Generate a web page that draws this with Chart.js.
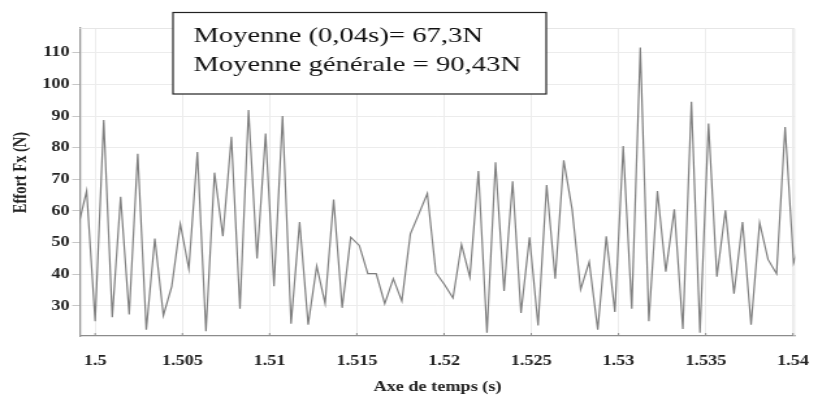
<!DOCTYPE html>
<html lang="fr">
<head>
<meta charset="utf-8">
<title>Effort Fx</title>
<script src="https://cdn.jsdelivr.net/npm/chart.js@4.4.1/dist/chart.umd.min.js"></script>
<style>
	html, body { margin: 0; padding: 0; background: #fff; overflow: hidden; }
	/* the figure is drawn narrow and widened, like the original export */
	#wrap { width: 639px; height: 396px; transform: scaleX(1.3005); transform-origin: 0 0; }
</style>
</head>
<body>
<div id="wrap"><canvas id="chart"></canvas></div>
<script>
// temps d'echantillonnage (s)
const temps = [
	1.49902, 1.49951, 1.50000, 1.50049, 1.50098, 1.50146, 1.50195, 1.50244, 1.50293, 1.50342,
	1.50391, 1.50439, 1.50488, 1.50537, 1.50586, 1.50635, 1.50684, 1.50732, 1.50781, 1.50830,
	1.50879, 1.50928, 1.50977, 1.51025, 1.51074, 1.51123, 1.51172, 1.51221, 1.51270, 1.51318,
	1.51367, 1.51416, 1.51465, 1.51514, 1.51563, 1.51611, 1.51660, 1.51709, 1.51758, 1.51807,
	1.51855, 1.51904, 1.51953, 1.52002, 1.52051, 1.52100, 1.52148, 1.52197, 1.52246, 1.52295,
	1.52344, 1.52393, 1.52441, 1.52490, 1.52539, 1.52588, 1.52637, 1.52686, 1.52734, 1.52783,
	1.52832, 1.52881, 1.52930, 1.52979, 1.53027, 1.53076, 1.53125, 1.53174, 1.53223, 1.53271,
	1.53320, 1.53369, 1.53418, 1.53467, 1.53516, 1.53564, 1.53613, 1.53662, 1.53711, 1.53760,
	1.53809, 1.53857, 1.53906, 1.53955, 1.54004, 1.54053
];

// effort Fx (N)
const effort = [
	55, 66.3, 25.2, 88.7, 26.4, 64.5, 27.3, 78.1, 22.5, 51.3,
	27.0, 36.2, 55.9, 41.7, 78.6, 22.0, 72.1, 52.0, 83.4, 29.1,
	91.9, 45.0, 84.5, 36.2, 90.0, 24.4, 56.5, 24.1, 42.6, 30.8,
	63.6, 29.4, 51.7, 49.1, 40.2, 40.2, 30.7, 38.6, 31.5, 52.8,
	59.0, 65.5, 40.5, 36.8, 32.5, 49.4, 39.1, 72.6, 21.5, 75.4,
	34.7, 69.4, 27.8, 51.7, 23.8, 68.2, 38.6, 76.0, 60.5, 35.2,
	43.9, 22.5, 52.0, 28.1, 80.5, 29.1, 111.6, 25.2, 66.3, 40.8,
	60.5, 22.7, 94.5, 21.5, 87.6, 39.2, 60.2, 33.9, 56.5, 24.1,
	56.3, 44.7, 40.2, 86.5, 43.6, 52
];

const tempsTicks = [1.5, 1.505, 1.51, 1.515, 1.52, 1.525, 1.53, 1.535, 1.54];
const effortTicks = [30, 40, 50, 60, 70, 80, 90, 100, 110];

const moyennes = ['Moyenne (0,04s)= 67,3N', 'Moyenne générale = 90,43N'];
const titreY = 'Effort Fx (N)';

const serif = '"Liberation Serif", "Times New Roman", serif';
const tickFont = { family: serif, weight: 'bold', size: 14 };

// light frame on top / right + small ticks on the time axis
const cadre = {
	id: 'cadre',
	beforeDatasetsDraw(chart) {
		const { ctx, chartArea: a } = chart;
		ctx.save();
		ctx.strokeStyle = '#e6e6e6';
		ctx.lineWidth = 1;
		ctx.beginPath();
		ctx.moveTo(a.left, a.top + 0.5);
		ctx.lineTo(a.right - 0.5, a.top + 0.5);
		ctx.lineTo(a.right - 0.5, a.bottom);
		ctx.stroke();

		const xs = chart.scales.x;
		ctx.strokeStyle = '#8c8c8c';
		ctx.beginPath();
		xs.ticks.forEach(t => {
			const px = xs.getPixelForValue(t.value);
			ctx.moveTo(px, a.bottom);
			ctx.lineTo(px, a.bottom - 3);
		});
		ctx.stroke();
		ctx.restore();
	}
};

// boxed text with the mean values, and the y title (sits a bit above centre)
const encadre = {
	id: 'encadre',
	afterDraw(chart) {
		const ctx = chart.ctx;
		const bx = 133, by = 12.5, bw = 287, bh = 81.5;
		ctx.save();
		ctx.fillStyle = '#fff';
		ctx.fillRect(bx, by, bw, bh);
		ctx.strokeStyle = '#222';
		ctx.lineWidth = 1.2;
		ctx.strokeRect(bx, by, bw, bh);
		ctx.fillStyle = '#111';
		ctx.font = '22px ' + serif;
		ctx.textBaseline = 'alphabetic';
		moyennes.forEach((txt, i) => {
			ctx.fillText(txt, 148.7, 42.3 + i * 28.7);
		});

		ctx.translate(16.5, 172.5);
		ctx.rotate(-Math.PI / 2);
		ctx.fillStyle = '#222';
		ctx.font = 'bold 14.5px ' + serif;
		ctx.textAlign = 'center';
		ctx.textBaseline = 'middle';
		ctx.fillText(titreY, 0, 0);
		ctx.restore();
	}
};

new Chart(document.getElementById('chart'), {
	type: 'line',
	data: {
		datasets: [{
			data: temps.map((t, i) => ({ x: t, y: effort[i] })),
			borderColor: '#7f7f7f',
			borderWidth: 1.2,
			pointRadius: 0,
			tension: 0,
			fill: false
		}]
	},
	options: {
		responsive: true,
		maintainAspectRatio: false,
		animation: false,
		layout: { padding: { top: 28, right: 10.8, left: 0, bottom: 0 } },
		plugins: {
			legend: { display: false },
			tooltip: { enabled: false }
		},
		scales: {
			x: {
				type: 'linear',
				min: 1.49913,
				max: 1.54012,
				afterBuildTicks: s => { s.ticks = tempsTicks.map(v => ({ value: v })); },
				afterFit: s => { s.height = 60; },
				grid: { color: '#ececec', drawTicks: false },
				border: { color: '#8c8c8c', width: 1.3 },
				ticks: {
					padding: 17,
					color: '#222',
					font: tickFont,
					maxRotation: 0,
					autoSkip: false,
					callback: v => String(v)
				},
				title: {
					display: true,
					text: 'Axe de temps (s)',
					color: '#222',
					font: { family: serif, weight: 'bold', size: 14 },
					padding: { top: 0, bottom: 0 }
				}
			},
			y: {
				min: 20.5,
				max: 117.8,
				afterBuildTicks: s => { s.ticks = effortTicks.map(v => ({ value: v })); },
				afterFit: s => { s.width = 61.5; },
				grid: { color: '#ececec', tickLength: 6, tickColor: '#c8c8c8' },
				border: { color: '#999', width: 1.3 },
				ticks: {
					padding: 2,
					color: '#222',
					font: tickFont,
					callback: v => String(v)
				}
			}
		}
	},
	plugins: [cadre, encadre]
});
</script>
</body>
</html>
